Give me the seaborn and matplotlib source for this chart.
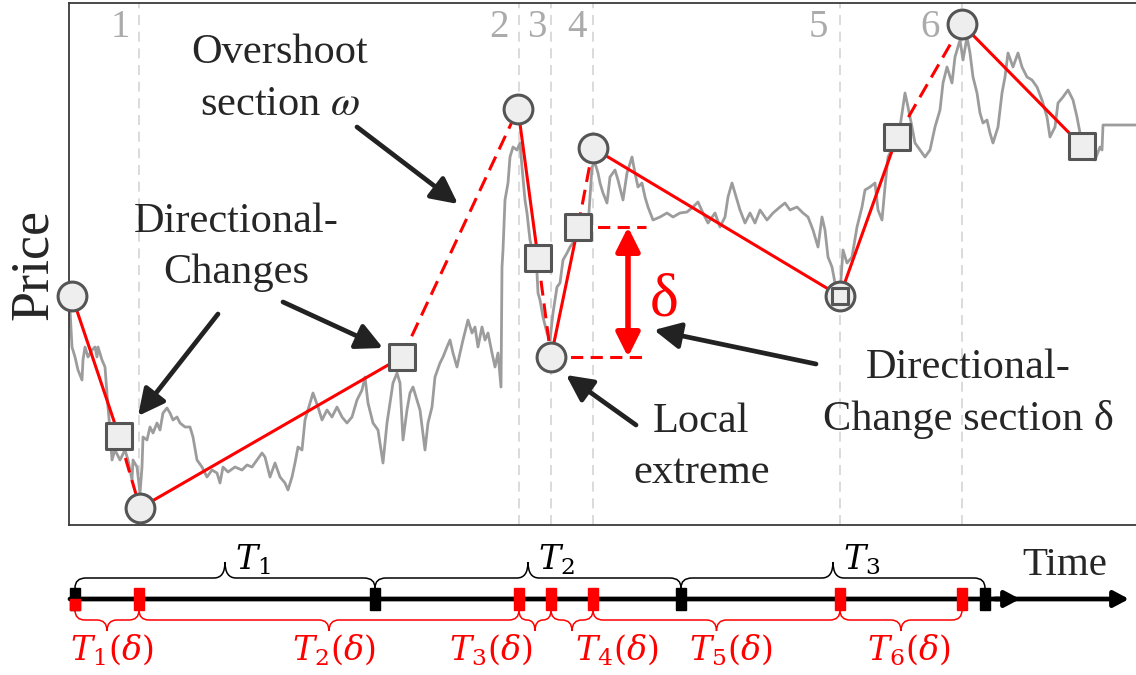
import matplotlib
matplotlib.use("Agg")
import matplotlib.pyplot as plt
import seaborn as sns
import pandas as pd
from matplotlib.path import Path
from matplotlib.patches import PathPatch, Rectangle

# ---------------- data ----------------
# price path (time in chart units, price in chart units)
time_pts = [69, 70, 72, 75, 78, 82, 83, 85, 88, 92, 95, 97, 98, 102, 105, 108, 110, 112, 115, 120,
            125, 128, 132, 133, 137, 140, 142, 143, 147, 150, 153, 157, 160, 163, 167, 170, 173, 177, 180, 185,
            190, 193, 197, 202, 207, 212, 217, 220, 223, 228, 235, 242, 247, 252, 257, 262,
            265, 270, 275, 280, 285, 288, 292, 295, 298, 302, 305, 310, 313, 318, 322, 327, 332, 337, 342, 347,
            352, 357, 362, 365, 368, 373, 378, 383, 387, 390, 393, 397, 400, 403, 407, 410, 413, 417, 420, 425,
            428, 432, 435, 440, 443, 447,
            450, 453, 457, 460, 463, 468, 472, 475, 478, 482, 485, 488, 492, 495, 498, 501, 502, 503, 505, 508,
            510, 513, 517, 520, 522, 525, 527, 530, 533, 537, 538, 540, 543, 547, 550, 553, 557, 560, 563, 567,
            570, 575, 580, 585, 588, 592, 595, 598,
            600, 603, 607, 610, 615, 618, 623, 627, 632, 635, 638, 642, 645, 648, 653, 660, 667, 673, 680, 687,
            693, 698, 703, 708, 715, 720, 725, 728, 732, 735, 740, 745, 750, 755, 760, 767, 773, 780, 785, 790,
            797, 803, 808, 813, 818, 822, 825, 828, 832, 835, 840, 843, 847, 852,
            857, 862, 865, 870, 875, 878, 882, 885, 888, 893, 900, 905, 908, 912, 915, 920, 925, 930, 935, 940,
            943, 947, 952, 955, 960, 963, 967, 970, 973, 977, 980, 983, 987, 990, 993, 998, 1002, 1005, 1008, 1013,
            1018, 1022, 1027, 1032, 1037, 1042, 1047, 1050, 1055, 1058, 1063, 1068, 1073, 1077, 1080, 1085, 1090,
            1095, 1100, 1102, 1103, 1136]
price_pts = [227, 215, 178, 168, 155, 145, 165, 178, 168, 175, 178, 168, 178, 165, 158, 118, 95, 65, 75, 65,
             75, 65, 45, 65, 58, 32, 58, 88, 85, 98, 92, 102, 95, 112, 117, 112, 105, 108, 102, 98,
             98, 88, 65, 58, 48, 55, 52, 42, 58, 53, 58, 55, 60, 58, 65, 72,
             68, 48, 62, 48, 42, 35, 48, 62, 78, 75, 105, 122, 132, 118, 105, 115, 108, 118, 108, 102,
             108, 125, 135, 148, 122, 102, 95, 62, 102, 122, 142, 152, 142, 85, 115, 132, 138, 125, 115, 75,
             102, 118, 148, 162, 168, 178,
             185, 172, 158, 172, 185, 205, 192, 198, 178, 198, 185, 192, 172, 158, 172, 138, 258, 275, 325, 342,
             368, 378, 375, 382, 358, 325, 312, 285, 272, 252, 232, 225, 208, 192, 185, 212, 238, 242, 265, 272,
             278, 285, 288, 285, 298, 358, 362, 352,
             342, 332, 322, 348, 355, 345, 325, 352, 368, 352, 338, 342, 328, 318, 305, 308, 312, 308, 312, 313,
             318, 323, 312, 302, 312, 298, 308, 328, 342, 332, 315, 302, 312, 302, 315, 305, 312, 318, 322, 315,
             318, 312, 308, 295, 278, 308, 295, 268, 258, 242, 232, 275, 262, 268,
             298, 318, 335, 338, 342, 315, 305, 338, 368, 378, 398, 432, 418, 398, 382, 375, 368, 375, 398, 415,
             442, 458, 442, 468, 485, 465, 488, 472, 448, 432, 412, 402, 405, 392, 382, 398, 432, 448, 472, 458,
             472, 458, 448, 445, 438, 425, 408, 388, 398, 422, 428, 435, 425, 408, 392, 382, 372,
             365, 378, 375, 400, 400]

# local extremes (circles) and directional-change confirmation points (squares)
ext_time = [72, 140, 518, 551, 593, 840, 962]
ext_price = [229, 17, 416, 168, 377, 229, 501]
dc_time = [119, 402, 538, 578, 840, 897, 1082]
dc_price = [89, 168, 267, 298, 229, 388, 379]

# numbered directional-change events (vertical guides / red ticks on the time axis)
event_time = [139, 519, 551, 593, 840, 962]
event_labels = ["1", "2", "3", "4", "5", "6"]

# time-axis intervals
start_time = 75
period_bounds = [75, 375, 681, 985]
period_labels = [r"$T_1$", r"$T_2$", r"$T_3$"]
dc_period_labels = [r"$T_1(\delta)$", r"$T_2(\delta)$", r"$T_3(\delta)$",
                    r"$T_4(\delta)$", r"$T_5(\delta)$", r"$T_6(\delta)$"]

# ---------------- style ----------------
sns.set_style("white")
plt.rcParams["font.family"] = ["Liberation Serif", "DejaVu Serif"]
plt.rcParams["mathtext.fontset"] = "stix"

W, H = 1136, 675
fig = plt.figure(figsize=(W / 100, H / 100), dpi=100)
ax = fig.add_axes([69 / W, 1 - 525 / H, (W - 69) / W, (525 - 3) / H])

df = pd.DataFrame({"time": time_pts, "price": price_pts})
sns.lineplot(data=df, x="time", y="price", ax=ax, color="#9c9c9c", linewidth=2.0,
             estimator=None, zorder=2)

ax.set_xlim(69, 1136)
ax.set_ylim(0, 522)
ax.set_xticks([])
ax.set_yticks([])
ax.set_xlabel("")
ax.set_ylabel("Price", fontsize=39, labelpad=7)
for side in ["left", "top", "bottom"]:
    ax.spines[side].set_color("#3a3a3a")
    ax.spines[side].set_linewidth(1.3)
ax.spines["right"].set_visible(False)

# vertical guides
for t in event_time:
    ax.axvline(t, color="#d4d4d4", lw=1.2, ls=(0, (6, 4)), zorder=1)

# red zig-zag: solid = directional change, dashed = overshoot
RED = "#ff0000"
for i in range(len(ext_time)):
    ax.plot([ext_time[i], dc_time[i]], [ext_price[i], dc_price[i]], color=RED, lw=2.2,
            solid_capstyle="butt", zorder=3)
for i in range(len(ext_time) - 1):
    ax.plot([dc_time[i], ext_time[i + 1]], [dc_price[i], ext_price[i + 1]], color=RED, lw=2.2,
            ls=(0, (4.9, 2.6)), zorder=3)

# delta illustration
ax.plot([dc_time[3], 646], [dc_price[3], dc_price[3]], color=RED, lw=2.2, ls=(0, (4, 2.4)), zorder=3)
ax.plot([ext_time[3], 646], [ext_price[3], ext_price[3]], color=RED, lw=2.2, ls=(0, (4, 2.4)), zorder=3)
ax.annotate("", xy=(628, dc_price[3]), xytext=(628, ext_price[3]),
            arrowprops=dict(arrowstyle="<|-|>,head_length=0.72,head_width=0.36", color=RED, lw=4,
                            mutation_scale=20, shrinkA=0, shrinkB=0), zorder=3)

# markers
sns.scatterplot(x=ext_time, y=ext_price, ax=ax, marker="o", s=430, color="#eeeeee",
                edgecolor="#555555", linewidth=2.2, zorder=5, clip_on=False)
ext_set = set(zip(ext_time, ext_price))
sq_sizes = [130 if (t, p) in ext_set else 360 for t, p in zip(dc_time, dc_price)]
ax.scatter(dc_time, dc_price, marker="s", s=sq_sizes, facecolor="#eeeeee",
           edgecolor="#555555", linewidth=2.2, zorder=6, clip_on=False)

# ---------------- overlay (annotations and time axis) ----------------
ov = fig.add_axes([0, 0, 1, 1], zorder=10)
ov.set_xlim(0, W)
ov.set_ylim(H, 0)
ov.axis("off")

TXT = 30.5
ov.text(280, 63, "Overshoot", ha="center", va="baseline", fontsize=TXT)
ov.text(280, 115, r"section $\omega$", ha="center", va="baseline", fontsize=TXT)
ov.text(236, 232, "Directional-", ha="center", va="baseline", fontsize=TXT)
ov.text(236, 283, "Changes", ha="center", va="baseline", fontsize=TXT)
ov.text(701, 432, "Local", ha="center", va="baseline", fontsize=TXT)
ov.text(702, 483, "extreme", ha="center", va="baseline", fontsize=TXT)
ov.text(968, 378, "Directional-", ha="center", va="baseline", fontsize=TXT)
ov.text(968, 430, "Change section δ", ha="center", va="baseline", fontsize=TXT)
ov.text(664, 316, "δ", ha="center", va="baseline", fontsize=44, color=RED)

digit_dx = [-19, -20, -14, -16, -22, -32]
for t, lab, dx in zip(event_time, event_labels, digit_dx):
    ov.text(t + dx, 37, lab, ha="center", va="baseline", fontsize=28, color="#ababab")

arrow_kw = dict(arrowstyle="-|>,head_length=0.8,head_width=0.4", color="#222222", lw=3.4,
                mutation_scale=20, shrinkA=0, shrinkB=0)
ov.annotate("", xy=(458, 204), xytext=(357, 127), arrowprops=arrow_kw)
ov.annotate("", xy=(138, 416), xytext=(218, 314), arrowprops=arrow_kw)
ov.annotate("", xy=(383, 348), xytext=(283, 302), arrowprops=arrow_kw)
ov.annotate("", xy=(566, 375), xytext=(636, 425), arrowprops=arrow_kw)
ov.annotate("", xy=(654, 330), xytext=(816, 364), arrowprops=arrow_kw)

# time axis
YL = 599
ov.annotate("", xy=(1129, YL), xytext=(70, YL),
            arrowprops=dict(arrowstyle="-|>,head_length=0.45,head_width=0.24", color="black", lw=3.4,
                            mutation_scale=20, shrinkA=0, shrinkB=0))
ov.annotate("", xy=(1020, YL), xytext=(995, YL),
            arrowprops=dict(arrowstyle="-|>,head_length=0.45,head_width=0.24", color="black", lw=3.4,
                            mutation_scale=20, shrinkA=0, shrinkB=0))
ov.text(1065, 575, "Time", ha="center", va="baseline", fontsize=29.5)

TW, TT, TB = 10, 588, 610
for t in period_bounds:
    ov.add_patch(Rectangle((t - TW / 2, TT), TW, TB - TT, color="black", zorder=4))
for t in event_time:
    ov.add_patch(Rectangle((t - TW / 2, TT), TW, TB - TT, color=RED, zorder=4))
ov.add_patch(Rectangle((start_time - TW / 2, YL), TW, TB - YL, color=RED, zorder=5))


def brace(x0, x1, y_end, y_body, y_tip, color, r):
    xm = (x0 + x1) / 2
    r = min(r, (xm - x0) / 2)
    verts = [(x0, y_end), (x0, y_body), (x0 + r, y_body), (xm - r, y_body),
             (xm, y_body), (xm, y_tip), (xm, y_body), (xm + r, y_body),
             (x1 - r, y_body), (x1, y_body), (x1, y_end)]
    codes = [Path.MOVETO, Path.CURVE3, Path.CURVE3, Path.LINETO,
             Path.CURVE3, Path.CURVE3, Path.CURVE3, Path.CURVE3,
             Path.LINETO, Path.CURVE3, Path.CURVE3]
    ov.add_patch(PathPatch(Path(verts, codes), fill=False, ec=color, lw=1.1, zorder=3))
    return xm


for (a, b), lab in zip(zip(period_bounds[:-1], period_bounds[1:]), period_labels):
    xm = brace(a, b, TT, 578, 562, "black", 11)
    ov.text(xm + 10, 570, lab, ha="left", va="baseline", fontsize=24, color="black",
            math_fontfamily="dejavuserif")

dc_ticks = [start_time] + event_time
label_dx = [5, 5, -44, 45, 14, 8]
for (a, b), lab, dx in zip(zip(dc_ticks[:-1], dc_ticks[1:]), dc_period_labels, label_dx):
    xm = brace(a, b, TB, 620, 631, RED, 10)
    ov.text(xm + dx, 660, lab, ha="center", va="baseline", fontsize=24, color=RED,
            math_fontfamily="dejavuserif")

fig.savefig("out.png", dpi=100)
